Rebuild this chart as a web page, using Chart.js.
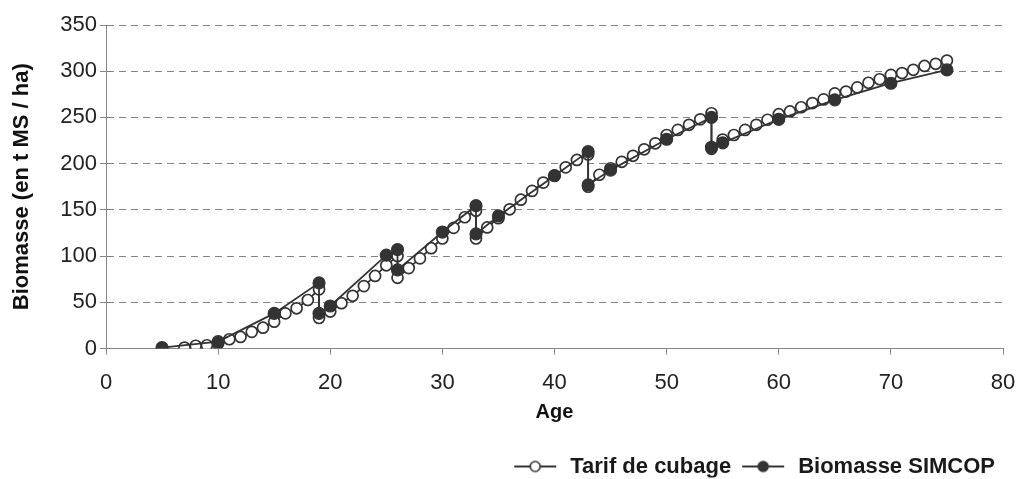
<!DOCTYPE html>
<html><head><meta charset="utf-8">
<script src="https://cdn.jsdelivr.net/npm/chart.js@4/dist/chart.umd.min.js"></script>
<style>html,body{margin:0;padding:0;background:#fff;}</style>
</head><body>
<canvas id="c" width="1018" height="479" style="display:block;width:1018px;height:479px"></canvas>
<script>
// ---- data ----
const seriesNames = ['Tarif de cubage', 'Biomasse SIMCOP'];
const tarifAges = [7,8,9,10,11,12,13,14,15,16,17,18,19,19,20,21,22,23,24,25,26,26,27,28,29,30,31,32,33,33,34,35,36,37,38,39,40,41,42,43,43,44,45,46,47,48,49,50,51,52,53,54,54,55,56,57,58,59,60,61,62,63,64,65,66,67,68,69,70,71,72,73,74,75];
const tarifValues = [1,3,3.5,5.5,10,12.5,18,22.5,29,38,43.5,52.5,64,33,40,49,57,67.5,78.5,90,100,76.5,87,97.5,108.5,119,130.5,142,149,119,131,141,150.6,161,170.5,179.5,187,196,204,210,175,188,195,202,208.5,215.5,222,231,236.5,242,248,254.5,216,226,231,236.5,242,247.5,253.5,256.5,261,265.5,269.5,276,278,282.5,287.5,291.3,296,298,301.5,305.7,308,311.5];
const simcopAges = [5,10,15,19,19,20,25,26,26,30,33,33,35,40,43,43,45,50,54,54,55,60,65,70,75];
const simcopValues = [1,7.4,38,71,38,46,101,107,85,126,154.5,124,143.4,187,213,177,193,226.4,250,217.7,222.5,248,269,287,301.4];
const xTicks = [0,10,20,30,40,50,60,70,80];
const yTicks = [0,50,100,150,200,250,300,350];
const xTitle = 'Age';
const yTitle = 'Biomasse (en t MS / ha)';

const FONT = 'Liberation Sans, Arial, Helvetica, sans-serif';
const DARK = '#333333';
const AXIS = '#868686';

function pts(xs, ys) { return xs.map((x, i) => ({x: x, y: ys[i]})); }

function legendIcon(filled) {
  const c = document.createElement('canvas');
  c.width = 48; c.height = 14;
  const g = c.getContext('2d');
  g.strokeStyle = DARK; g.lineWidth = 1.8;
  g.beginPath(); g.moveTo(3, 7); g.lineTo(45, 7); g.stroke();
  g.beginPath(); g.arc(24, 7, 5, 0, Math.PI * 2);
  g.fillStyle = filled ? DARK : '#ffffff';
  g.fill(); g.lineWidth = 1.6; g.stroke();
  return c;
}
const icons = [legendIcon(false), legendIcon(true)];

new Chart(document.getElementById('c'), {
  type: 'line',
  data: {
    datasets: [
      {
        label: seriesNames[0],
        data: pts(tarifAges, tarifValues),
        borderColor: DARK, borderWidth: 1.8,
        pointRadius: 5.5, pointBackgroundColor: '#ffffff',
        pointBorderColor: DARK, pointBorderWidth: 1.7,
        tension: 0, order: 1
      },
      {
        label: seriesNames[1],
        data: pts(simcopAges, simcopValues),
        borderColor: DARK, borderWidth: 1.8,
        pointRadius: 6, pointBackgroundColor: DARK,
        pointBorderColor: DARK, pointBorderWidth: 1.2,
        tension: 0, order: 0
      }
    ]
  },
  options: {
    responsive: false,
    animation: false,
    devicePixelRatio: 1,
    layout: { padding: { left: 0, right: 15, top: 25, bottom: 1.5 } },
    plugins: {
      tooltip: { enabled: false },
      legend: {
        position: 'bottom', align: 'end', maxHeight: 30,
        labels: {
          usePointStyle: true, pointStyleWidth: 48, padding: 8,
          color: '#1a1a1a', font: { family: FONT, size: 22, weight: 'bold' },
          generateLabels: () => seriesNames.map((n, i) => ({
            text: n, pointStyle: icons[i], fillStyle: DARK, strokeStyle: DARK,
            lineWidth: 0, hidden: false, datasetIndex: i, fontColor: '#1a1a1a'
          }))
        }
      }
    },
    scales: {
      x: {
        type: 'linear', min: 0, max: 80,
        afterBuildTicks: s => { s.ticks = xTicks.map(v => ({value: v})); },
        afterFit: s => { s.height = 99; s.paddingLeft = 0; s.paddingRight = 0; },
        ticks: { color: '#222', padding: 15, font: { family: FONT, size: 22 }, maxRotation: 0 },
        grid: { drawOnChartArea: false, drawTicks: true, tickLength: 6, color: AXIS, tickColor: AXIS },
        border: { display: true, color: AXIS, width: 1 },
        title: { display: true, text: xTitle, color: '#111', padding: { top: 0, bottom: 23 },
                 font: { family: FONT, size: 20, weight: 'bold' } }
      },
      y: {
        type: 'linear', min: 0, max: 350,
        afterBuildTicks: s => { s.ticks = yTicks.map(v => ({value: v})); },
        afterFit: s => { s.width = 106; },
        ticks: { color: '#222', padding: 3, font: { family: FONT, size: 22 } },
        grid: { drawTicks: true, tickLength: 6, color: '#828282', tickColor: AXIS, lineWidth: 1, tickBorderDash: [] },
        border: { display: true, color: AXIS, width: 1, dash: [7, 5] },
        title: { display: true, text: yTitle, color: '#111', padding: { top: 9, bottom: 0 },
                 font: { family: FONT, size: 22, weight: 'bold' } }
      }
    }
  }
});
</script>
</body></html>
